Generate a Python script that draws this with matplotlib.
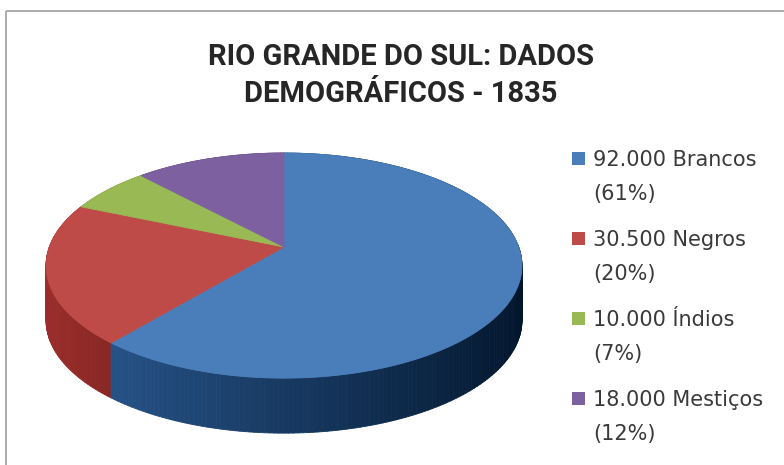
import numpy as np
import matplotlib

matplotlib.use("Agg")
import matplotlib.pyplot as plt
from matplotlib.colors import to_rgb
from matplotlib.patches import Polygon, Rectangle
from matplotlib.collections import PolyCollection


TITLE_LINES = ["RIO GRANDE DO SUL: DADOS", "DEMOGRÁFICOS - 1835"]
GROUPS = ["Brancos", "Negros", "Índios", "Mestiços"]
POPULATION = [92000, 30500, 10000, 18000]
COLORS = ["#4a7ebb", "#be4b48", "#98b954", "#7d60a0"]

# pie layout in pixels (y grows downward)
CX, CY = 284, 247
SX, SY = 234.7, 109.5
PERSP = 0.165
DEPTH = 55


def project(theta, drop=0.0):
    u = np.cos(theta)
    w = np.sin(theta)
    d = 1 + PERSP * w
    return CX + SX * u / d, CY - SY * w / d + drop


def shade(color, u):
    f = 0.66 - 0.30 * u
    return tuple(np.clip(np.array(to_rgb(color)) * f - 0.1, 0, 1))


def slice_angles(values):
    fr = np.array(values, dtype=float) / sum(values)
    ends = np.pi / 2 - 2 * np.pi * np.cumsum(fr)
    starts = np.concatenate([[np.pi / 2], ends[:-1]])
    return starts, ends


def draw_pie(ax, values, colors):
    starts, ends = slice_angles(values)

    # side wall, far pieces first
    quads = []
    for a0, a1, c in zip(starts, ends, colors):
        n = max(int(abs(a1 - a0) / np.radians(1.0)), 2)
        ts = np.linspace(a0, a1, n + 1)
        for t0, t1 in zip(ts[:-1], ts[1:]):
            x0, y0 = project(t0)
            x1, y1 = project(t1)
            mid = (t0 + t1) / 2
            poly = [(x0, y0), (x1, y1), (x1, y1 + DEPTH), (x0, y0 + DEPTH)]
            quads.append((np.sin(mid), poly, shade(c, np.cos(mid))))
    quads.sort(key=lambda q: -q[0])
    cols = [q[2] for q in quads]
    ax.add_collection(PolyCollection([q[1] for q in quads], facecolors=cols,
                                     edgecolors=cols, linewidths=0.6))

    # top face
    for a0, a1, c in zip(starts, ends, colors):
        ts = np.linspace(a0, a1, 200)
        xs, ys = project(ts)
        pts = [(CX, CY)] + list(zip(xs, ys))
        ax.add_patch(Polygon(pts, closed=True, facecolor=c, edgecolor=c, linewidth=0.6))


def main():
    fig = plt.figure(figsize=(7.84, 4.65), dpi=100)
    ax = fig.add_axes([0, 0, 1, 1])
    ax.set_xlim(0, 784)
    ax.set_ylim(465, 0)
    ax.set_axis_off()

    # chart frame (runs off the right and bottom edges)
    ax.add_patch(Rectangle((6.5, 11.5), 820, 500, fill=False,
                           edgecolor="#a6a6a6", linewidth=1.3))

    for line, base in zip(TITLE_LINES, [65, 102]):
        ax.text(401, base, line, ha="center", va="baseline", fontsize=21,
                fontweight="bold", color="#262626",
                family=["Roboto", "DejaVu Sans"])

    draw_pie(ax, POPULATION, COLORS)

    total = sum(POPULATION)
    for i, (name, v, c) in enumerate(zip(GROUPS, POPULATION, COLORS)):
        base = 166 + 80 * i
        ax.add_patch(Rectangle((572, base - 14), 13, 13, facecolor=c, edgecolor="none"))
        label = f"{v:,}".replace(",", ".") + " " + name
        ax.text(593, base, label, va="baseline", fontsize=15, color="#3a3a3a",
                family="DejaVu Sans")
        ax.text(593, base + 34, f"({round(100 * v / total)}%)", va="baseline",
                fontsize=15, color="#3a3a3a", family="DejaVu Sans")

    fig.savefig("out.png", dpi=100)
    plt.close(fig)


if __name__ == "__main__":
    main()
